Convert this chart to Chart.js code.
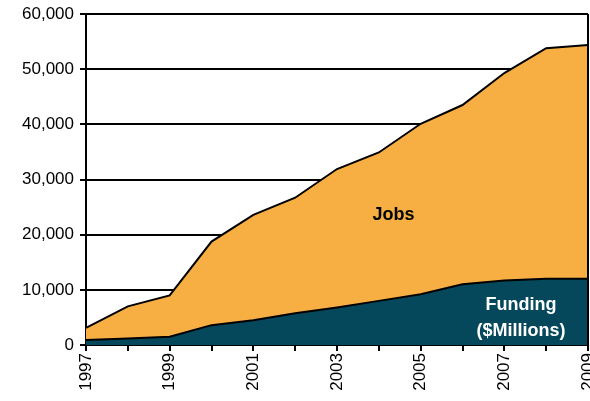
<!DOCTYPE html>
<html lang="en">
<head>
    <meta charset="UTF-8">
    <title>Jobs and Funding</title>
    <script src="https://cdn.jsdelivr.net/npm/chart.js"></script>
    <style>
        html, body {
            margin: 0;
            padding: 0;
            background: #fff;
        }
        canvas {
            display: block;
        }
    </style>
</head>
<body>
    <canvas id="chart" width="590" height="401"></canvas>
    <script>
        // Data
        const years = ['1997', '1998', '1999', '2000', '2001', '2002', '2003', '2004', '2005', '2006', '2007', '2008', '2009'];
        const jobs = [3100, 7000, 9000, 18750, 23600, 26700, 31900, 34900, 40100, 43500, 49300, 53800, 54400];
        const funding = [900, 1200, 1500, 3600, 4500, 5750, 6800, 8000, 9200, 11000, 11700, 12000, 12000];

        const FONT = "'Liberation Sans', Arial, sans-serif";

        // right edge of the plot box
        const frame = {
            id: 'frame',
            afterDatasetsDraw(chart) {
                const { ctx, chartArea } = chart;
                ctx.save();
                ctx.strokeStyle = '#000';
                ctx.lineWidth = 2;
                ctx.beginPath();
                ctx.moveTo(chartArea.right, chartArea.top);
                ctx.lineTo(chartArea.right, chartArea.bottom);
                ctx.stroke();
                ctx.restore();
            }
        };

        // in-chart series labels
        const areaLabels = {
            id: 'areaLabels',
            afterDatasetsDraw(chart) {
                const { ctx, scales } = chart;
                const x = scales.x, y = scales.y;
                ctx.save();
                ctx.font = 'bold 18px ' + FONT;
                ctx.textAlign = 'center';
                ctx.textBaseline = 'middle';
                ctx.fillStyle = '#000';
                ctx.fillText('Jobs', x.getPixelForValue(7.35), y.getPixelForValue(23600));
                ctx.fillStyle = '#fff';
                ctx.fillText('Funding', x.getPixelForValue(10.4), y.getPixelForValue(7300));
                ctx.fillText('($Millions)', x.getPixelForValue(10.4), y.getPixelForValue(2600));
                ctx.restore();
            }
        };

        new Chart(document.getElementById('chart'), {
            type: 'line',
            data: {
                labels: years,
                datasets: [
                    {
                        label: 'Funding ($Millions)',
                        data: funding,
                        order: 1,
                        fill: 'origin',
                        backgroundColor: '#05485B',
                        borderColor: '#000',
                        borderWidth: 2,
                        pointRadius: 0,
                        tension: 0
                    },
                    {
                        label: 'Jobs',
                        data: jobs,
                        order: 2,
                        fill: 'origin',
                        backgroundColor: '#F7AF44',
                        borderColor: '#000',
                        borderWidth: 2,
                        pointRadius: 0,
                        tension: 0
                    }
                ]
            },
            options: {
                responsive: false,
                animation: false,
                devicePixelRatio: 1,
                layout: {
                    padding: { top: 14, right: 2, left: 0, bottom: 0 }
                },
                plugins: {
                    legend: { display: false },
                    tooltip: { enabled: false }
                },
                scales: {
                    x: {
                        offset: false,
                        afterFit: function (scale) {
                            scale.height = 56;
                            scale.paddingLeft = 0;
                            scale.paddingRight = 0;
                        },
                        grid: {
                            drawOnChartArea: false,
                            color: '#000',
                            lineWidth: 2,
                            tickLength: 6
                        },
                        border: { color: '#000', width: 2 },
                        ticks: {
                            color: '#000',
                            font: { size: 17, family: FONT },
                            minRotation: 90,
                            maxRotation: 90,
                            autoSkip: false,
                            padding: 2,
                            callback: function (v, i) {
                                return i % 2 === 0 ? years[i] : '';
                            }
                        }
                    },
                    y: {
                        min: 0,
                        max: 60000,
                        afterFit: function (scale) {
                            scale.width = 86;
                            scale.paddingTop = 0;
                            scale.paddingBottom = 0;
                        },
                        grid: {
                            color: '#000',
                            lineWidth: 2,
                            tickLength: 6
                        },
                        border: { color: '#000', width: 2 },
                        ticks: {
                            stepSize: 10000,
                            color: '#000',
                            font: { size: 17, family: FONT },
                            padding: 6,
                            callback: function (v) {
                                return v.toLocaleString('en-US');
                            }
                        }
                    }
                }
            },
            plugins: [frame, areaLabels]
        });
    </script>
</body>
</html>
